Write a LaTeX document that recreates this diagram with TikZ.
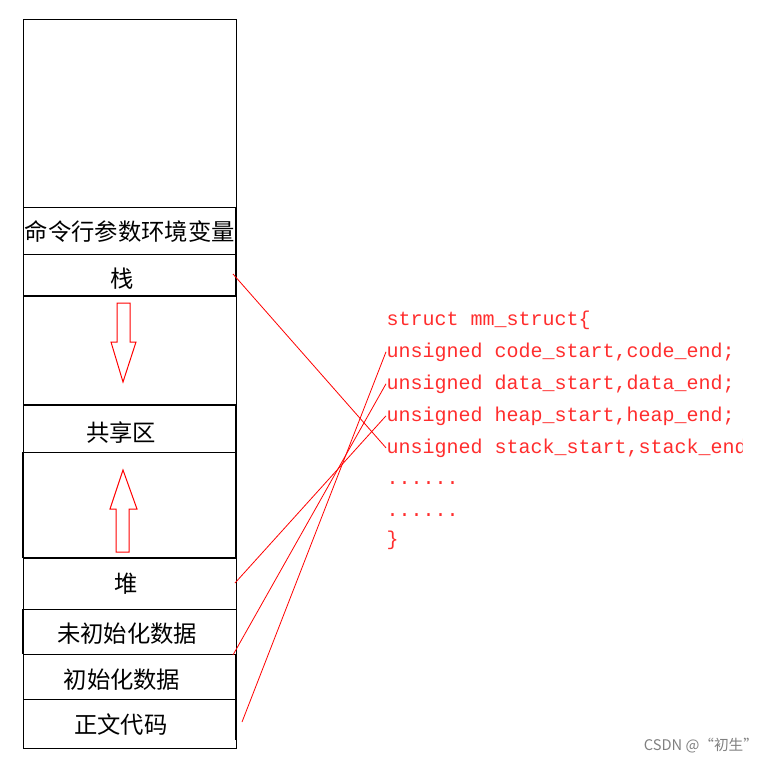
\documentclass[tikz,border=0pt]{standalone}
\usepackage{fontspec}
\setmonofont{Liberation Mono}
\newfontfamily\cjk{Noto Sans CJK SC}
\definecolor{codered}{RGB}{255,45,45}
\tikzset{
  seg/.style={font=\cjk\fontsize{17.5}{17.5}\selectfont, inner sep=0pt},
  code/.style={anchor=base west, inner sep=0pt, text=codered, font=\ttfamily\fontsize{15}{15}\selectfont},
  link/.style={red, line width=0.6pt},
  wall/.style={line width=1.6pt}
}
\begin{document}
\begin{tikzpicture}[x=0.75pt, y=-0.75pt, line width=0.75pt]
            \useasboundingbox (0,0) rectangle (779,764);

            \draw (23,19) rectangle (236,748);
            \foreach \y in {207,254,452,609,654,699}
                \draw (23,\y) -- (236,\y);
            \foreach \y in {296,405,558}
                \draw[wall] (23,\y) -- (236,\y);
            \draw[wall] (236,207) -- (236,296);
            \draw[wall] (236,405) -- (236,558);
            \draw[wall] (23,452) -- (23,558);
            \draw[wall] (23,609) -- (23,654);
            \draw[wall] (236,654) -- (236,740);

            \node[seg] (env)   at (130,232) {命令行参数环境变量};
            \node[seg] (stack) at (122,279) {栈};
            \node[seg] (share) at (121,433) {共享区};
            \node[seg] (heap)  at (126,584) {堆};
            \node[seg] (bss)   at (127,634) {未初始化数据};
            \node[seg] (data)  at (122,680) {初始化数据};
            \node[seg] (text)  at (121,725) {正文代码};

            \draw[red] (117,303) -- (130,303) -- (130,342) -- (136,342) -- (123,382)
                -- (111,342) -- (117,342) -- cycle;
            \draw[red] (116,552) -- (129,552) -- (129,509) -- (137,509) -- (123,470)
                -- (110,509) -- (116,509) -- cycle;

            \begin{scope}
                \clip (380,290) rectangle (742,560);
                \node[code] (l0) at (386,325) {struct mm\_struct\{};
                \node[code] (l1) at (386,357) {unsigned code\_start,code\_end;};
                \node[code] (l2) at (386,389) {unsigned data\_start,data\_end;};
                \node[code] (l3) at (386,421) {unsigned heap\_start,heap\_end;};
                \node[code] (l4) at (386,453) {unsigned stack\_start,stack\_end;};
                \node[code] (l5) at (386,484) {......};
                \node[code] (l6) at (386,516) {......};
                \node[code] (l7) at (386,545) {\}};
            \end{scope}

            \coordinate (pstack) at (233,274);
            \coordinate (pheap)  at (235,583);
            \coordinate (pbss)   at (233,655);
            \coordinate (ptext)  at (242,722);
            \draw[link] (pstack) -- (l4.west);
            \draw[link] (pheap)  -- (l3.west);
            \draw[link] (pbss)   -- (l2.west);
            \draw[link] (ptext)  -- (l1.west);

            \node[text=gray, font=\cjk\fontsize{11}{11}\selectfont, anchor=east] (mark) at (763,746) {CSDN @“初生”};
        \end{tikzpicture}
\end{document}
